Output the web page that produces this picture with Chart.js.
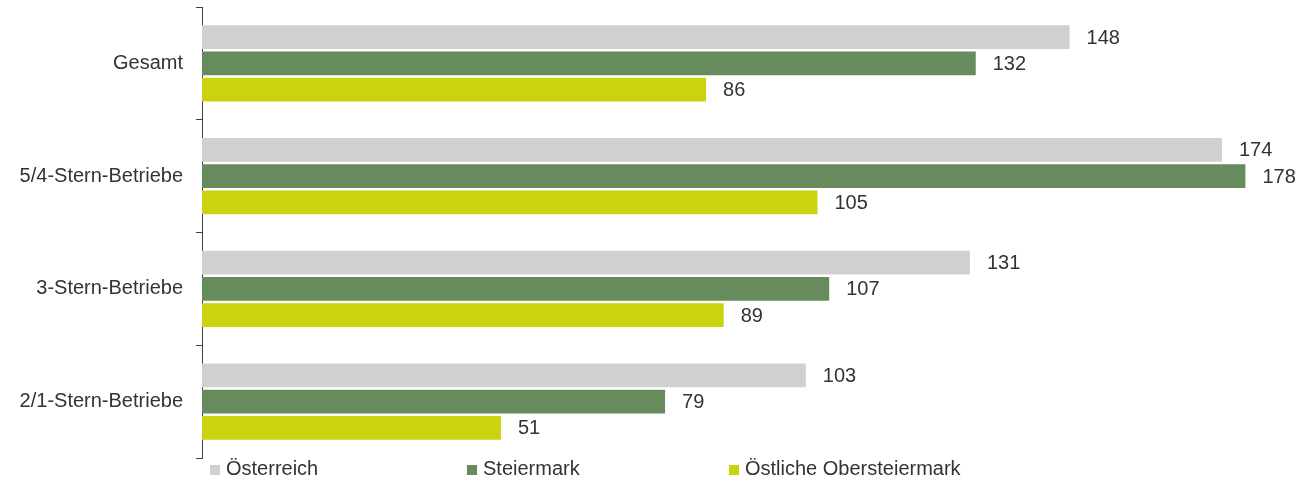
<!DOCTYPE html>
<html>
<head>
<meta charset="utf-8">
<script src="https://cdn.jsdelivr.net/npm/chart.js@4/dist/chart.umd.min.js"></script>
<style>
  html, body { margin: 0; padding: 0; background: #fff; }
  #wrap { position: relative; width: 1307px; height: 483px; }
  #legend { position: absolute; left: 210px; top: 456px; height: 24px;
            font: 20px "Liberation Sans", Arial, sans-serif; color: #333; }
  .item { position: absolute; top: 0; white-space: nowrap; line-height: 24px; }
  .box { display: inline-block; width: 10px; height: 10px; margin-right: 6px; vertical-align: 0px; }
</style>
</head>
<body>
<div id="wrap">
  <canvas id="chartBars" width="1307" height="483"></canvas>
  <div id="legend"></div>
</div>
<script>
/*values*/
var categories = ["Gesamt", "5/4-Stern-Betriebe", "3-Stern-Betriebe", "2/1-Stern-Betriebe"];
var seriesNames = ["Österreich", "Steiermark", "Östliche Obersteiermark"];
var oesterreich = [148, 174, 131, 103];
var steiermark = [132, 178, 107, 79];
var oestlicheObersteiermark = [86, 105, 89, 51];
var seriesColors = ["#D0D0D0", "#678B5D", "#C9D40F"];
var legendOffsets = [0, 257, 519];
const fontFamily = '"Liberation Sans", Arial, sans-serif';

// draws the number to the right of every bar
const valueLabels = {
    id: 'valueLabels',
    afterDatasetsDraw(chart) {
        var c = chart.ctx;
        c.save();
        c.font = '20px ' + fontFamily;
        c.fillStyle = '#333333';
        c.textAlign = 'left';
        c.textBaseline = 'middle';
        chart.data.datasets.forEach(function (ds, i) {
            chart.getDatasetMeta(i).data.forEach(function (bar, j) {
                c.fillText(ds.data[j], bar.x + 17, bar.y + 1);
            });
        });
        c.restore();
    }
};

var ctx = document.getElementById("chartBars").getContext("2d");
var chartBars = new Chart(ctx, {
    type: "bar",
    data: {
        labels: categories,
        datasets: [
            { label: seriesNames[0], data: oesterreich, backgroundColor: seriesColors[0] },
            { label: seriesNames[1], data: steiermark, backgroundColor: seriesColors[1] },
            { label: seriesNames[2], data: oestlicheObersteiermark, backgroundColor: seriesColors[2] }
        ]
    },
    options: {
        indexAxis: 'y',
        responsive: false,
        animation: false,
        categoryPercentage: 0.70,
        barPercentage: 0.906,
        layout: { padding: { top: 7, bottom: 25, left: 0, right: 3 } },
        plugins: {
            legend: { display: false },
            tooltip: { enabled: false },
            title: { display: false }
        },
        scales: {
            x: {
                display: false,
                min: 0,
                max: 188
            },
            y: {
                afterFit: function (scale) {
                    scale.width = 202;
                    scale.paddingTop = 0;
                    scale.paddingBottom = 0;
                },
                border: { display: true, color: '#404040', width: 1 },
                grid: {
                    drawOnChartArea: false,
                    drawTicks: true,
                    tickLength: 6,
                    color: '#404040',
                    offset: true
                },
                ticks: {
                    padding: 13,
                    color: '#333333',
                    font: { family: fontFamily, size: 20 }
                }
            }
        }
    },
    plugins: [valueLabels]
});

// legend laid out like the original, fixed columns
var legend = document.getElementById('legend');
seriesNames.forEach(function (name, i) {
    var item = document.createElement('div');
    item.className = 'item';
    item.style.left = legendOffsets[i] + 'px';
    item.innerHTML = '<span class="box" style="background:' + seriesColors[i] + '"></span>' + name;
    legend.appendChild(item);
});
</script>
</body>
</html>
